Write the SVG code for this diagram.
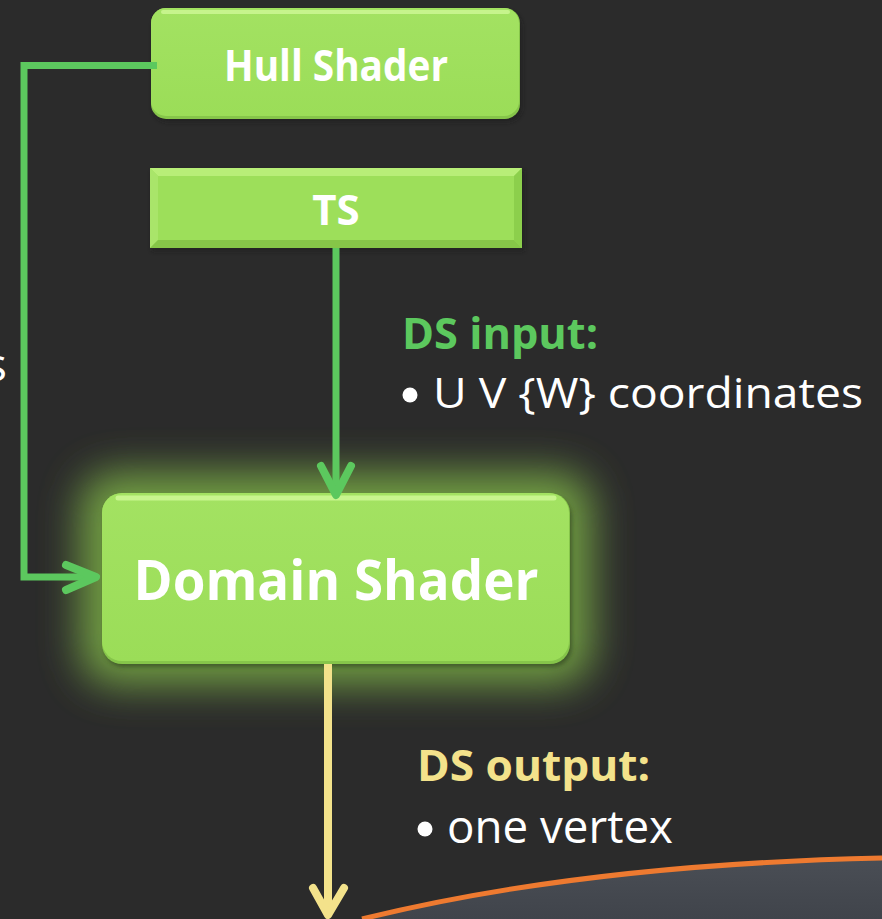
<svg xmlns="http://www.w3.org/2000/svg" width="882" height="919" viewBox="0 0 882 919">
  <defs>
    <style>
      .node-label { font-family: "Open Sans", "Liberation Sans", sans-serif; font-weight: 700; fill: #ffffff; text-anchor: middle; }
      .head { font-family: "Open Sans", "Liberation Sans", sans-serif; font-weight: 700; }
      .body { font-family: "Open Sans", "Liberation Sans", sans-serif; fill: #ffffff; }
      .wire { fill: none; stroke: #5cc85e; stroke-width: 7; }
      .tip { fill: none; stroke: #5cc85e; stroke-width: 8; stroke-linecap: round; stroke-linejoin: round; }
      .out-wire { fill: none; stroke: #f3e28b; stroke-width: 8; }
      .out-tip { fill: none; stroke: #f3e28b; stroke-width: 8; stroke-linecap: round; stroke-linejoin: round; }
    </style>
    <linearGradient id="boxFill" x1="0" y1="0" x2="0" y2="1">
      <stop offset="0" stop-color="#a3e262"/>
      <stop offset="1" stop-color="#9bdd58"/>
    </linearGradient>
    <linearGradient id="ground" x1="0" y1="0" x2="0" y2="1">
      <stop offset="0" stop-color="#4a4e55"/>
      <stop offset="1" stop-color="#40444b"/>
    </linearGradient>
    <filter id="soft" x="-10%" y="-10%" width="120%" height="130%">
      <feGaussianBlur stdDeviation="2"/>
    </filter>
    <filter id="glow" x="-40%" y="-80%" width="180%" height="260%">
      <feGaussianBlur stdDeviation="20"/>
    </filter>
  </defs>

  <!-- backdrop -->
  <rect x="0" y="0" width="882" height="919" fill="#2b2b2b"/>

  <!-- ground curve at the bottom right -->
  <path d="M 362 919 C 520 880, 700 862, 882 858 L 882 919 Z" fill="url(#ground)"/>
  <path d="M 362 919 C 520 880, 700 862, 882 858" fill="none" stroke="#ee7a30" stroke-width="5"/>

  <!-- clipped label from the left margin -->
  <text class="body" x="-15" y="381" font-size="46">s</text>

  <!-- Hull Shader -->
  <g id="hull-shader">
    <rect x="153" y="12" width="369" height="110" rx="15" fill="#1c1c1c" opacity="0.6" filter="url(#soft)"/>
    <rect x="151" y="8" width="369" height="111" rx="15" fill="#86c54a"/>
    <rect x="151" y="8" width="368" height="108" rx="15" fill="url(#boxFill)"/>
    <path d="M 163 12 H 508" stroke="#c6f48c" stroke-width="4" stroke-linecap="round" fill="none"/>
    <text class="node-label" x="336" y="81" font-size="43" textLength="224" lengthAdjust="spacingAndGlyphs">Hull Shader</text>
  </g>

  <!-- TS -->
  <g id="ts">
    <rect x="152" y="171" width="372" height="80" fill="#1c1c1c" opacity="0.6" filter="url(#soft)"/>
    <rect x="150" y="168" width="372" height="80" fill="#9ddf5a"/>
    <polygon points="150,168 522,168 514,176 158,176" fill="#b8ee78"/>
    <polygon points="150,168 158,176 158,240 150,248" fill="#a9e56a"/>
    <polygon points="522,168 522,248 514,240 514,176" fill="#8ccf4c"/>
    <polygon points="150,248 158,240 514,240 522,248" fill="#86c648"/>
    <text class="node-label" x="336" y="225" font-size="42">TS</text>
  </g>

  <!-- Domain Shader -->
  <g id="domain-shader">
    <rect x="80" y="472" width="512" height="213" rx="34" fill="#76a545" opacity="0.95" filter="url(#glow)"/>
    <rect x="104" y="497" width="468" height="170" rx="20" fill="#2a3a1a" opacity="0.6" filter="url(#soft)"/>
    <rect x="102" y="493" width="468" height="171" rx="20" fill="#86c54a"/>
    <rect x="102" y="493" width="467" height="168" rx="20" fill="url(#boxFill)"/>
    <path d="M 118 498 H 554" stroke="#c8f58e" stroke-width="5" stroke-linecap="round" fill="none"/>
    <text class="node-label" x="336" y="600" font-size="56" textLength="405" lengthAdjust="spacingAndGlyphs">Domain Shader</text>
  </g>

  <!-- connectors -->
  <g id="connectors">
    <path class="wire" d="M 157 65.5 H 24 V 577 H 95"/>
    <polyline class="tip" points="66,565 96,577 66,590"/>
    <path class="wire" d="M 336 248 V 494"/>
    <polyline class="tip" points="321,466 336,495 351,466"/>
    <path class="out-wire" d="M 328 664 V 914"/>
    <polyline class="out-tip" points="313,888 328,915 344,888"/>
  </g>

  <!-- DS input annotation -->
  <g id="ds-input">
    <text class="head" x="402" y="349" font-size="43" fill="#5cc85e" textLength="196" lengthAdjust="spacingAndGlyphs">DS input:</text>
    <circle cx="410" cy="395" r="7.5" fill="#ffffff"/>
    <text class="body" x="433" y="408" font-size="42" textLength="430" lengthAdjust="spacingAndGlyphs">U V {W} coordinates</text>
  </g>

  <!-- DS output annotation -->
  <g id="ds-output">
    <text class="head" x="417" y="781" font-size="43" fill="#f3e28b" textLength="233" lengthAdjust="spacingAndGlyphs">DS output:</text>
    <circle cx="425" cy="829" r="7.5" fill="#ffffff"/>
    <text class="body" x="447" y="843" font-size="46" textLength="226" lengthAdjust="spacingAndGlyphs">one vertex</text>
  </g>
</svg>
